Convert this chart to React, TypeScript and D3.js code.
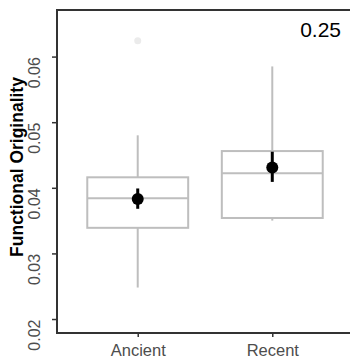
import React, { useRef, useEffect } from "react";
import * as d3 from "d3";

// categories and box statistics
const groups = ["Ancient", "Recent"];
const lowerWhisker = [0.0248, 0.035];
const q1 = [0.0339, 0.0354];
const median = [0.0384, 0.0422];
const q3 = [0.0416, 0.0456];
const upperWhisker = [0.048, 0.0585];
const outliers = [{ group: "Ancient", value: 0.0624 }];

// mean and error bar
const means = [0.0383, 0.0431];
const errLow = [0.0368, 0.0409];
const errHigh = [0.0399, 0.0455];

const yTicks = [0.02, 0.03, 0.04, 0.05, 0.06];
const pLabel = "0.25";

const App = () => {
	const chartRef = useRef<SVGSVGElement>(null);

	useEffect(() => {
		const width = 350;
		const height = 361;
		const margin = { top: 10, right: -3, bottom: 28, left: 57 };
		const font = "'Liberation Sans', Arial, sans-serif";

		const svg = d3.select(chartRef.current);
		svg.selectAll("*").remove();
		svg.attr("width", width).attr("height", height);

		const xScale = d3.scalePoint()
			.domain(groups)
			.range([margin.left, width - margin.right])
			.padding(0.6);

		const step = xScale.step();
		const boxW = step * 0.75;

		const yScale = d3.scaleLinear()
			.domain([0.01787, 0.0671])
			.range([height - margin.bottom, margin.top]);

		const stats = groups.map((g, i) => ({
			g,
			lo: lowerWhisker[i],
			q1: q1[i],
			med: median[i],
			q3: q3[i],
			hi: upperWhisker[i],
			mean: means[i],
			el: errLow[i],
			eh: errHigh[i],
		}));

		const boxColor = "#bebebe";

		// whiskers
		svg.append("g")
			.selectAll("line.up")
			.data(stats)
			.enter()
			.append("line")
			.attr("x1", d => xScale(d.g))
			.attr("x2", d => xScale(d.g))
			.attr("y1", d => yScale(d.q3))
			.attr("y2", d => yScale(d.hi))
			.attr("stroke", boxColor)
			.attr("stroke-width", 2);

		svg.append("g")
			.selectAll("line.down")
			.data(stats)
			.enter()
			.append("line")
			.attr("x1", d => xScale(d.g))
			.attr("x2", d => xScale(d.g))
			.attr("y1", d => yScale(d.q1))
			.attr("y2", d => yScale(d.lo))
			.attr("stroke", boxColor)
			.attr("stroke-width", 2);

		// boxes
		svg.append("g")
			.selectAll("rect")
			.data(stats)
			.enter()
			.append("rect")
			.attr("x", d => xScale(d.g) - boxW / 2)
			.attr("y", d => yScale(d.q3))
			.attr("width", boxW)
			.attr("height", d => yScale(d.q1) - yScale(d.q3))
			.attr("fill", "white")
			.attr("stroke", boxColor)
			.attr("stroke-width", 2);

		// medians
		svg.append("g")
			.selectAll("line")
			.data(stats)
			.enter()
			.append("line")
			.attr("x1", d => xScale(d.g) - boxW / 2)
			.attr("x2", d => xScale(d.g) + boxW / 2)
			.attr("y1", d => yScale(d.med))
			.attr("y2", d => yScale(d.med))
			.attr("stroke", boxColor)
			.attr("stroke-width", 2);

		// outliers
		svg.append("g")
			.selectAll("circle")
			.data(outliers)
			.enter()
			.append("circle")
			.attr("cx", d => xScale(d.group))
			.attr("cy", d => yScale(d.value))
			.attr("r", 3.5)
			.attr("fill", "#ebebeb");

		// error bars + means
		svg.append("g")
			.selectAll("line")
			.data(stats)
			.enter()
			.append("line")
			.attr("x1", d => xScale(d.g))
			.attr("x2", d => xScale(d.g))
			.attr("y1", d => yScale(d.el))
			.attr("y2", d => yScale(d.eh))
			.attr("stroke", "black")
			.attr("stroke-width", 3);

		svg.append("g")
			.selectAll("circle")
			.data(stats)
			.enter()
			.append("circle")
			.attr("cx", d => xScale(d.g))
			.attr("cy", d => yScale(d.mean))
			.attr("r", 6)
			.attr("fill", "black");

		// panel border
		svg.append("rect")
			.attr("x", margin.left)
			.attr("y", margin.top)
			.attr("width", width - margin.right - margin.left)
			.attr("height", height - margin.bottom - margin.top)
			.attr("fill", "none")
			.attr("stroke", "#333333")
			.attr("stroke-width", 2);

		// y axis
		const yAxis = d3.axisLeft(yScale)
			.tickValues(yTicks)
			.tickSize(5)
			.tickFormat(d3.format(".2f"));

		const gy = svg.append("g")
			.attr("transform", `translate(${margin.left}, 0)`)
			.call(yAxis);
		gy.select(".domain").remove();
		gy.selectAll(".tick line").attr("stroke", "#333333").attr("stroke-width", 1.5);
		gy.selectAll(".tick text")
			.attr("x", 0)
			.attr("y", 0)
			.attr("dy", 0)
			.attr("transform", "translate(-17, 0) rotate(-90)")
			.attr("text-anchor", "end")
			.attr("fill", "#4d4d4d")
			.style("font-family", font)
			.style("font-size", "16px");

		// x axis
		const xAxis = d3.axisBottom(xScale).tickSize(4);
		const gx = svg.append("g")
			.attr("transform", `translate(0, ${height - margin.bottom})`)
			.call(xAxis);
		gx.select(".domain").remove();
		gx.selectAll(".tick line").attr("stroke", "#333333").attr("stroke-width", 1.5);
		gx.selectAll(".tick text")
			.attr("y", 23)
			.attr("dy", 0)
			.attr("fill", "#4d4d4d")
			.style("font-family", font)
			.style("font-size", "16.5px");

		// y title
		svg.append("text")
			.attr("transform", `translate(22.5, ${(77 + 257) / 2}) rotate(-90)`)
			.attr("text-anchor", "middle")
			.style("font-family", font)
			.style("font-size", "17.5px")
			.style("font-weight", "bold")
			.attr("fill", "black")
			.text("Functional Originality");

		// p-value label
		svg.append("text")
			.attr("x", 341)
			.attr("y", 36.5)
			.attr("text-anchor", "end")
			.style("font-family", font)
			.style("font-size", "21px")
			.attr("fill", "black")
			.text(pLabel);
	}, []);

	return (
		<svg ref={chartRef} style={{ position: "absolute", left: 0, top: 0 }}></svg>
	);
};

export default App;
